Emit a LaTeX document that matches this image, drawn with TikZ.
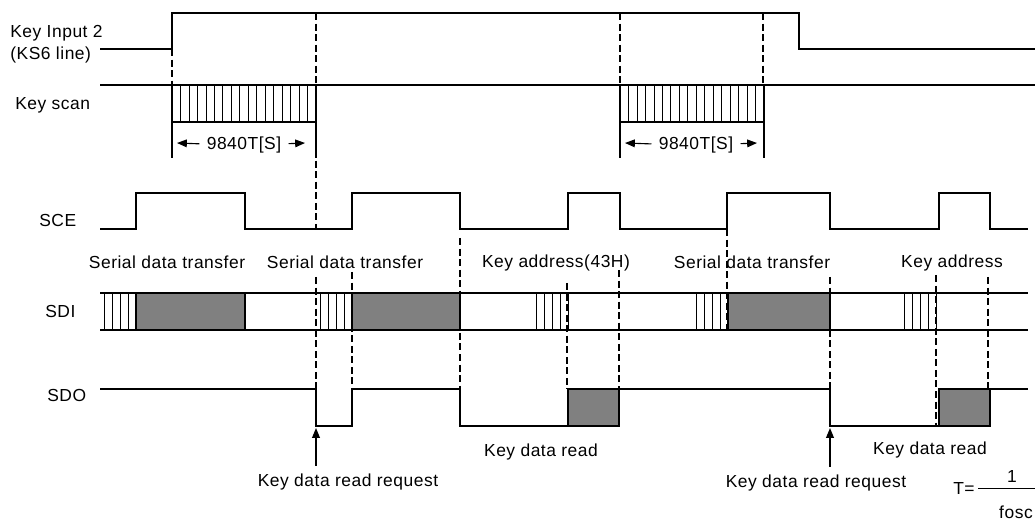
\documentclass[tikz,border=0pt]{standalone}
\usepackage{fontspec}
\setmainfont[LetterSpace=3]{Liberation Sans}
\usetikzlibrary{arrows.meta,positioning,calc}

\begin{document}
\begin{tikzpicture}[%
    x=0.025cm, y=-0.025cm,
    >={Triangle[length=7pt,width=5.5pt]},
    sig/.style={line width=0.95pt},
    guide/.style={line width=0.8pt, dash pattern=on 5pt off 2.5pt},
    hatch/.style={line width=0.5pt},
    busy/.style={draw, line width=0.95pt, fill=black!50},
    lbl/.style={font=\fontsize{12.4}{14}\selectfont, inner sep=0pt},
  ]
  \useasboundingbox (0,0) rectangle (1035,523);

  % --- signal names ---
  \node[lbl, anchor=base west] (kin) at (10,38) {Key Input 2};
  \node[lbl, anchor=base west] (ks6) at (10,60) {(KS6 line)};
  \node[lbl, anchor=base west] (kscan) at (15,110) {Key scan};
  \node[lbl, anchor=base west] (sce) at (39,227) {SCE};
  \node[lbl, anchor=base west] (sdi) at (45,318) {SDI};
  \node[lbl, anchor=base west] (sdo) at (47,402) {SDO};

  % --- Key Input 2 / key scan ---
  \draw[sig] (100,49) -- (172,49) -- (172,13) -- (799,13) -- (799,49) -- (1035,49);
  \draw[sig] (100,85) -- (1035,85);

  % scan bursts
  \draw[sig] (172,85) -- (172,158) (316,85) -- (316,158) (172,122) -- (316,122);
  \draw[sig] (620,85) -- (620,158) (764,85) -- (764,158) (620,122) -- (764,122);
  \foreach \s in {172,620}
    \foreach \i in {1,...,16}
      \draw[hatch] ({\s+\i*144/17},85) -- ++(0,37);

  % scan length
  \coordinate (ks1l) at (177,143);
  \coordinate (ks1r) at (305,143);
  \coordinate (ks2l) at (625,143);
  \coordinate (ks2r) at (757,143);
  \node[lbl, anchor=base] (len1) at (244,150) {9840T[S]};
  \node[lbl, anchor=base] (len2) at (696,150) {9840T[S]};
  \draw[->, line width=0.8pt, shorten <=5pt] (len1) -- (ks1l);
  \draw[->, line width=0.8pt, shorten <=5pt] (len1) -- (ks1r);
  \draw[->, line width=0.8pt, shorten <=5pt] (len2) -- (ks2l);
  \draw[->, line width=0.8pt, shorten <=5pt] (len2) -- (ks2r);

  % --- SCE ---
  \draw[sig] (100,229) -- (136,229) -- (136,193) -- (245,193) -- (245,229)
    -- (352,229) -- (352,193) -- (460,193) -- (460,229)
    -- (568,229) -- (568,193) -- (620,193) -- (620,229)
    -- (727,229) -- (727,193) -- (830,193) -- (830,229)
    -- (939,229) -- (939,193) -- (990,193) -- (990,229) -- (1028,229);

  % --- SDI ---
  \draw[busy] (136,293) rectangle (245,330);
  \draw[busy] (352,293) rectangle (460,330);
  \draw[busy] (728,293) rectangle (830,330);
  \draw[sig] (100,293) -- (1028,293) (100,330) -- (1028,330);
  \foreach \s in {104,320,536,696,904}
    \foreach \i in {0,...,4}
      \draw[hatch, line width=0.6pt] (\s+8*\i,293) -- ++(0,37);

  % --- SDO ---
  \draw[sig] (100,389) -- (316,389) -- (316,426) -- (352,426) -- (352,389)
    -- (460,389) -- (460,426) -- (568,426);
  \draw[busy] (568,389) rectangle (619,426);
  \draw[sig] (619,389) -- (830,389) -- (830,426) -- (939,426);
  \draw[busy] (939,389) rectangle (990,426);
  \draw[sig] (990,389) -- (1028,389);

  % --- timing guides ---
  \draw[guide] (172,49) -- (172,85);
  \draw[guide] (316,13) -- (316,229);
  \draw[guide] (620,13) -- (620,85);
  \draw[guide] (763,13) -- (763,85);
  \draw[guide] (316,277) -- (316,389);
  \draw[guide] (352,272) -- (352,389);
  \draw[guide] (460,238) -- (460,389);
  \draw[guide] (567,283) -- (567,389);
  \draw[guide] (619,270) -- (619,389);
  \draw[guide] (727,229) -- (727,330);
  \draw[guide] (830,277) -- (830,426);
  \draw[guide] (936,275) -- (936,426);
  \draw[guide] (988,277) -- (988,389);

  % --- phase labels ---
  \node[lbl, anchor=base] (sdt1) at (167,269) {Serial data transfer};
  \node[lbl, anchor=base] (sdt2) at (345,269) {Serial data transfer};
  \node[lbl, anchor=base] (kad1) at (556,268) {Key address(43H)};
  \node[lbl, anchor=base] (sdt3) at (752,269) {Serial data transfer};
  \node[lbl, anchor=base] (kad2) at (952,268) {Key address};
  \node[lbl, anchor=base] (kdr1) at (541,457) {Key data read};
  \node[lbl, anchor=base] (kdr2) at (930,455) {Key data read};

  % read requests
  \coordinate (sdo1) at (316,428);
  \coordinate (sdo2) at (830,428);
  \node[lbl, anchor=base] (req1) at (348,487) {Key data read request};
  \node[lbl, anchor=base] (req2) at (816,488) {Key data read request};
  \draw[->, line width=0.9pt, shorten <=6pt] (req1.north -| sdo1) -- (sdo1);
  \draw[->, line width=0.9pt, shorten <=6pt] (req2.north -| sdo2) -- (sdo2);

  % T = 1/fosc
  \node[lbl, anchor=base west] (teq) at (953,495) {T=};
  \draw[line width=0.7pt] (978,488) -- (1035,488);
  \node[lbl, anchor=base] (one) at (1012,483) {1};
  \node[lbl, anchor=base] (fosc) at (1016,519) {fosc};
\end{tikzpicture}
\end{document}
